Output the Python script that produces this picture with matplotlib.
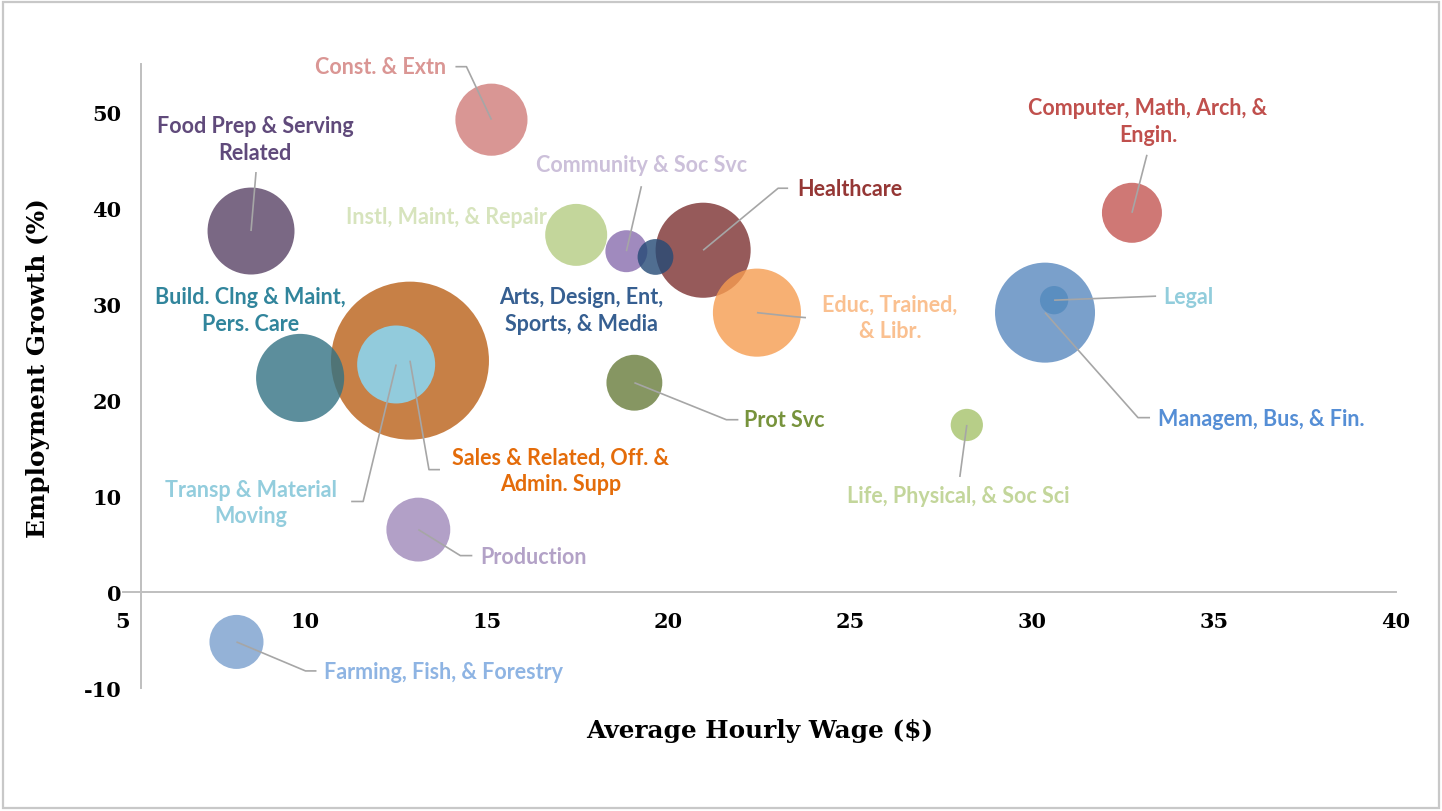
import numpy as np
import matplotlib
matplotlib.use('Agg')
import matplotlib.pyplot as plt
from matplotlib.colors import to_rgb
from matplotlib.patches import Rectangle

plt.rcParams['axes.unicode_minus'] = False

# occupation groups: average hourly wage ($), employment growth (%), bubble size
groups = [
    'Sales & Related, Off. &\nAdmin. Supp',
    'Managem, Bus, & Fin.',
    'Healthcare',
    'Educ, Trained,\n& Libr.',
    'Build. Clng & Maint,\nPers. Care',
    'Food Prep & Serving\nRelated',
    'Transp & Material\nMoving',
    'Const. & Extn',
    'Production',
    'Instl, Maint, & Repair',
    'Computer, Math, Arch, &\nEngin.',
    'Prot Svc',
    'Farming, Fish, & Forestry',
    'Community & Soc Svc',
    'Arts, Design, Ent,\nSports, & Media',
    'Life, Physical, & Soc Sci',
    'Legal',
]
wage   = [12.89, 30.35, 20.95, 22.43, 9.87, 8.52, 12.51, 15.13, 13.12, 17.46, 32.74, 19.06, 8.12, 18.84, 19.64, 28.20, 30.60]
growth = [24.1, 29.1, 35.6, 29.1, 22.3, 37.6, 23.7, 49.2, 6.5, 37.2, 39.5, 21.8, -5.2, 35.5, 34.9, 17.4, 30.4]
size   = [62.4, 25.0, 22.6, 19.4, 19.4, 18.9, 15.2, 13.0, 10.2, 9.6, 9.0, 7.8, 7.3, 4.4, 3.2, 2.6, 2.0]

# colours as they appear on white, and label colours
bubble_col = ['#C88046', '#7AA0CC', '#965A5A', '#F8B073', '#5C8E9C', '#7A6884', '#92CBDC', '#D99694',
              '#B2A0C8', '#C4D69B', '#CF7875', '#869662', '#94B2D8', '#A08ABE', '#506E91', '#B7CE88', '#5A8EC0']
label_col = ['#E46C0A', '#558ED5', '#953735', '#FAC090', '#31859C', '#604A7B', '#93CDDD', '#DA9694',
             '#B3A2C7', '#D7E4BD', '#C0504D', '#77933C', '#8EB4E3', '#CCC0DA', '#365F91', '#C3D69B', '#92CDDC']
# these two sit fully on top of a bigger bubble
opaque = {'Transp & Material\nMoving', 'Legal'}

# label placement in pixels relative to the bubble centre (y down): text offset, ha, leader path
layout = {
    0:  ((151, 110), 'center', [(30, 109), (19, 109), (0, 0)]),
    1:  ((113, 106), 'left', [(105, 105), (93, 105), (0, 0)]),
    2:  ((94, -62), 'left', [(85, -62), (75, -62), (0, 0)]),
    3:  ((133, 5), 'center', [(49, 5), (37, 4), (0, 0)]),
    4:  ((-50, -68), 'center', None),
    5:  ((4, -92), 'center', [(5, -59), (0, 0)]),
    6:  ((-145, 138), 'center', [(-45, 137), (-33, 137), (0, 0)]),
    7:  ((-111, -53), 'center', [(-36, -53), (-25, -53), (0, 0)]),
    8:  ((62, 27), 'left', [(54, 26), (42, 26), (0, 0)]),
    9:  ((-29, -18), 'right', None),
    10: ((16, -92), 'center', [(15, -58), (0, 0)]),
    11: ((110, 37), 'left', [(104, 37), (92, 37), (0, 0)]),
    12: ((88, 30), 'left', [(80, 29), (69, 29), (0, 0)]),
    13: ((15, -87), 'center', [(15, -65), (0, 0)]),
    14: ((-74, 53), 'center', None),
    15: ((-9, 71), 'center', [(-7, 52), (0, 0)]),
    16: ((109, -4), 'left', [(102, -4), (0, 0)]),
}

ALPHA = 0.8


def base_colour(seen, a=ALPHA):
    # colour that gives 'seen' when painted with alpha a over white
    rgb = (np.array(to_rgb(seen)) - (1 - a)) / a
    return tuple(np.clip(rgb, 0, 1)) + (a,)


W, H, DPI = 1442, 812, 100
fig = plt.figure(figsize=(W / DPI, H / DPI), dpi=DPI)
ax = fig.add_axes([123 / W, 1 - 689 / H, (1396 - 123) / W, (689 - 65) / H])

ax.set_xlim(5, 40)
ax.set_ylim(-10, 55)

for i in range(len(groups)):
    a = 1.0 if groups[i] in opaque else ALPHA
    ax.scatter(wage[i], growth[i], s=size[i] * 207.4, color=base_colour(bubble_col[i], a),
               edgecolors='none', zorder=2 + i * 0.01)

fig.canvas.draw()
to_disp = ax.transData
to_data = ax.transData.inverted()

for i, name in enumerate(groups):
    (dx, dy), ha, path = layout[i]
    cx, cy = to_disp.transform((wage[i], growth[i]))
    tx, ty = to_data.transform((cx + dx, cy - dy))
    ax.text(tx, ty, name, ha=ha, va='center', color=label_col[i], fontsize=15.5,
            fontweight='bold', family='Lato', linespacing=1.33, zorder=5)
    if path:
        pts = to_data.transform([(cx + px, cy - py) for px, py in path])
        ax.plot(pts[:, 0], pts[:, 1], color='#A6A6A6', lw=1.2, zorder=4, solid_capstyle='butt')

for side in ['top', 'right']:
    ax.spines[side].set_visible(False)
ax.spines['bottom'].set_position(('data', 0))
ax.spines['left'].set_position(('data', 5.5))
for side in ['bottom', 'left']:
    ax.spines[side].set_color('#BFBFBF')
    ax.spines[side].set_linewidth(1.4)

ax.set_xticks(np.arange(5, 41, 5))
ax.set_yticks(np.arange(-10, 51, 10))
ax.tick_params(length=0)
ax.tick_params(axis='x', pad=14)
ax.tick_params(axis='y', pad=14)
for lab in ax.get_xticklabels() + ax.get_yticklabels():
    lab.set_family('DejaVu Serif')
    lab.set_fontweight('bold')
    lab.set_fontsize(15)

fig.text(760 / W, 1 - 731 / H, 'Average Hourly Wage ($)', ha='center', va='center',
         family='DejaVu Serif', fontweight='bold', fontsize=17.8)
fig.text(38 / W, 1 - 368 / H, 'Employment Growth (%)', ha='center', va='center', rotation=90,
         family='DejaVu Serif', fontweight='bold', fontsize=17.8)

fig.add_artist(Rectangle((3 / W, 3 / H), (W - 6) / W, (H - 6) / H, transform=fig.transFigure,
                         fill=False, edgecolor='#C8C8C8', lw=1.6))

fig.savefig('out.png', dpi=DPI)
